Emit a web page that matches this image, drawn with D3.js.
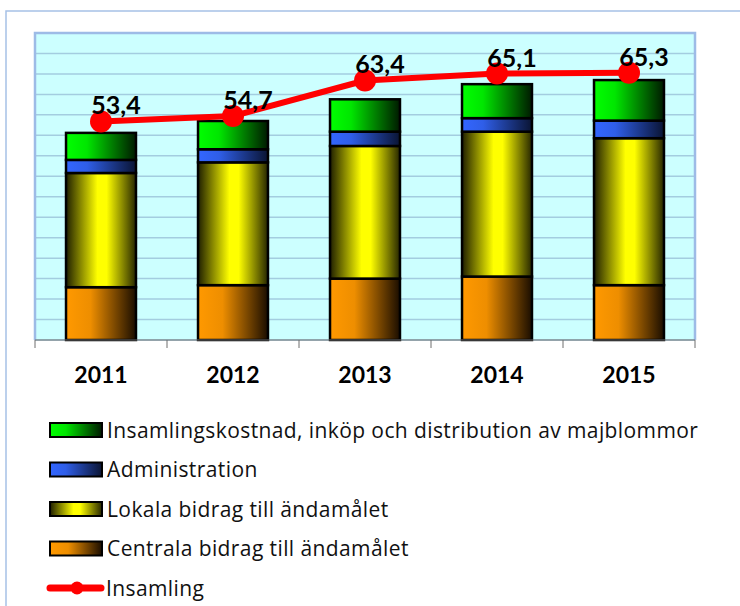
<!DOCTYPE html>
<html>
<head>
<meta charset="utf-8">
<script src="https://cdn.jsdelivr.net/npm/d3@7"></script>
<style>
  body { margin: 0; background: #fff; }
  svg { display: block; font-family: Lato, "Open Sans", sans-serif; font-variant-ligatures: none; }
  .legend text { font-family: "Open Sans", sans-serif; letter-spacing: 0.4px; }
</style>
</head>
<body>
<script>
var years = ["2011", "2012", "2013", "2014", "2015"]
var centrala = [12.9, 13.4, 15.0, 15.5, 13.4]
var lokala = [27.9, 30.0, 32.4, 35.4, 35.9]
var administration = [3.2, 3.2, 3.5, 3.3, 4.3]
var insamlingskostnad = [6.6, 6.9, 7.9, 8.3, 9.9]
var insamling = [53.4, 54.7, 63.4, 65.1, 65.3]
var insamlingLabels = ["53,4", "54,7", "63,4", "65,1", "65,3"]

var seriesKeys = ["centrala", "lokala", "administration", "insamlingskostnad"]
var seriesNames = {
  insamlingskostnad: "Insamlingskostnad, inköp och distribution av majblommor",
  administration: "Administration",
  lokala: "Lokala bidrag till ändamålet",
  centrala: "Centrala bidrag till ändamålet"
}

// gradient stops per series (left -> right)
var gradients = {
  insamlingskostnad: [[0, "#00ff00"], [0.3, "#00e600"], [1, "#001a00"]],
  administration: [[0, "#3366ff"], [0.3, "#2f5ee8"], [1, "#0a1433"]],
  lokala: [[0, "#1f1f00"], [0.45, "#ffff00"], [0.58, "#ffff00"], [1, "#262600"]],
  centrala: [[0, "#ff9900"], [0.35, "#ee8e00"], [1, "#1a0d00"]]
}

var table = years.map(function(y, i) {
  return {year: y, centrala: centrala[i], lokala: lokala[i],
    administration: administration[i], insamlingskostnad: insamlingskostnad[i]}
})

var W = 740, H = 606
var plot = {left: 35, right: 695, top: 33, bottom: 340}

var svg = d3.select("body").append("svg")
    .attr("width", W)
    .attr("height", H)

var defs = svg.append("defs")
Object.keys(gradients).forEach(function(k) {
  var g = defs.append("linearGradient")
      .attr("id", "grad-" + k)
      .attr("x1", "0%").attr("x2", "100%")
      .attr("y1", "0%").attr("y2", "0%")
  gradients[k].forEach(function(s) {
    g.append("stop").attr("offset", s[0]).attr("stop-color", s[1])
  })
})

// outer chart border
svg.append("rect")
    .attr("x", 6).attr("y", 11)
    .attr("width", 800).attr("height", 700)
    .attr("fill", "#fff")
    .attr("stroke", "#a7c1e6")
    .attr("stroke-width", 1.5)

var x = d3.scaleBand()
    .domain(years)
    .range([plot.left, plot.right])
    .paddingInner(0.47)
    .paddingOuter(0.235)

var y = d3.scaleLinear()
    .domain([0, 75])
    .range([plot.bottom, plot.top])

// plot background
svg.append("rect")
    .attr("x", plot.left).attr("y", plot.top)
    .attr("width", plot.right - plot.left)
    .attr("height", plot.bottom - plot.top)
    .attr("fill", "#ccffff")

// gridlines
svg.append("g")
  .selectAll("line")
  .data(y.ticks(15))
  .enter().append("line")
    .attr("x1", plot.left).attr("x2", plot.right)
    .attr("y1", function(d) { return y(d) })
    .attr("y2", function(d) { return y(d) })
    .attr("stroke", "#a3cde0")
    .attr("stroke-width", 1.5)

// plot border (left, top, right)
svg.append("path")
    .attr("d", "M" + plot.left + "," + plot.bottom + "V" + plot.top + "H" + plot.right + "V" + plot.bottom)
    .attr("fill", "none")
    .attr("stroke", "#9dbbe6")
    .attr("stroke-width", 2.5)

// stacked bars
var stack = d3.stack().keys(seriesKeys)
var layers = svg.append("g").selectAll("g")
    .data(stack(table))
    .enter().append("g")
    .attr("fill", function(d) { return "url(#grad-" + d.key + ")" })

layers.selectAll("rect")
    .data(function(d) { return d })
    .enter().append("rect")
    .attr("x", function(d) { return x(d.data.year) })
    .attr("y", function(d) { return y(d[1]) })
    .attr("width", x.bandwidth())
    .attr("height", function(d) { return y(d[0]) - y(d[1]) })
    .attr("stroke", "#000")
    .attr("stroke-width", 2.5)

// x axis line + boundary ticks
var step = x.step()
var boundaries = d3.range(years.length + 1).map(function(i) { return plot.left + i * step })
svg.append("line")
    .attr("x1", plot.left).attr("x2", plot.right)
    .attr("y1", plot.bottom).attr("y2", plot.bottom)
    .attr("stroke", "#6e6e6e")
    .attr("stroke-width", 1)
svg.append("g").selectAll("line")
    .data(boundaries)
    .enter().append("line")
    .attr("x1", function(d) { return d }).attr("x2", function(d) { return d })
    .attr("y1", plot.bottom).attr("y2", plot.bottom + 8)
    .attr("stroke", "#6e6e6e")
    .attr("stroke-width", 1)

// year labels
svg.append("g").selectAll("text")
    .data(years)
    .enter().append("text")
    .attr("x", function(d) { return x(d) + x.bandwidth() / 2 })
    .attr("y", 383)
    .attr("text-anchor", "middle")
    .style("font-size", "23px")
    .style("font-weight", "bold")
    .text(function(d) { return d })

// Insamling line
var cx = function(i) { return x(years[i]) + x.bandwidth() / 2 }
var line = d3.line()
    .x(function(d, i) { return cx(i) })
    .y(function(d) { return y(d) })

svg.append("path")
    .datum(insamling)
    .attr("d", line)
    .attr("fill", "none")
    .attr("stroke", "#ff0000")
    .attr("stroke-width", 6)
    .attr("stroke-linejoin", "round")

svg.append("g").selectAll("circle")
    .data(insamling)
    .enter().append("circle")
    .attr("cx", function(d, i) { return cx(i) })
    .attr("cy", function(d) { return y(d) })
    .attr("r", 11)
    .attr("fill", "#ff0000")

svg.append("g").selectAll("text")
    .data(insamling)
    .enter().append("text")
    .attr("x", function(d, i) { return cx(i) + 15 })
    .attr("y", function(d) { return y(d) - 7 })
    .attr("text-anchor", "middle")
    .style("font-size", "25px")
    .style("font-weight", "bold")
    .text(function(d, i) { return insamlingLabels[i] })

// legend
var legendKeys = ["insamlingskostnad", "administration", "lokala", "centrala"]
var legend = svg.append("g").attr("class", "legend")
var rowY = function(i) { return 430 + i * 39.5 }

var items = legend.selectAll("g.item")
    .data(legendKeys)
    .enter().append("g")
    .attr("class", "item")
    .attr("transform", function(d, i) { return "translate(0," + rowY(i) + ")" })

items.append("rect")
    .attr("x", 50).attr("y", -7)
    .attr("width", 52).attr("height", 14)
    .attr("fill", function(d) { return "url(#grad-" + d + ")" })
    .attr("stroke", "#000")
    .attr("stroke-width", 2)

items.append("text")
    .attr("x", 107)
    .attr("y", 7.5)
    .style("font-size", "21px")
    .attr("fill", "#111")
    .text(function(d) { return seriesNames[d] })

var lineItem = legend.append("g")
    .attr("transform", "translate(0," + rowY(4) + ")")
lineItem.append("line")
    .attr("x1", 50).attr("x2", 101)
    .attr("y1", 0).attr("y2", 0)
    .attr("stroke", "#ff0000")
    .attr("stroke-width", 7)
    .attr("stroke-linecap", "round")
lineItem.append("circle")
    .attr("cx", 77).attr("cy", 0).attr("r", 6.5)
    .attr("fill", "#ff0000")
lineItem.append("text")
    .attr("x", 106)
    .attr("y", 7.5)
    .style("font-size", "21px")
    .attr("fill", "#111")
    .text("Insamling")
</script>
</body>
</html>
